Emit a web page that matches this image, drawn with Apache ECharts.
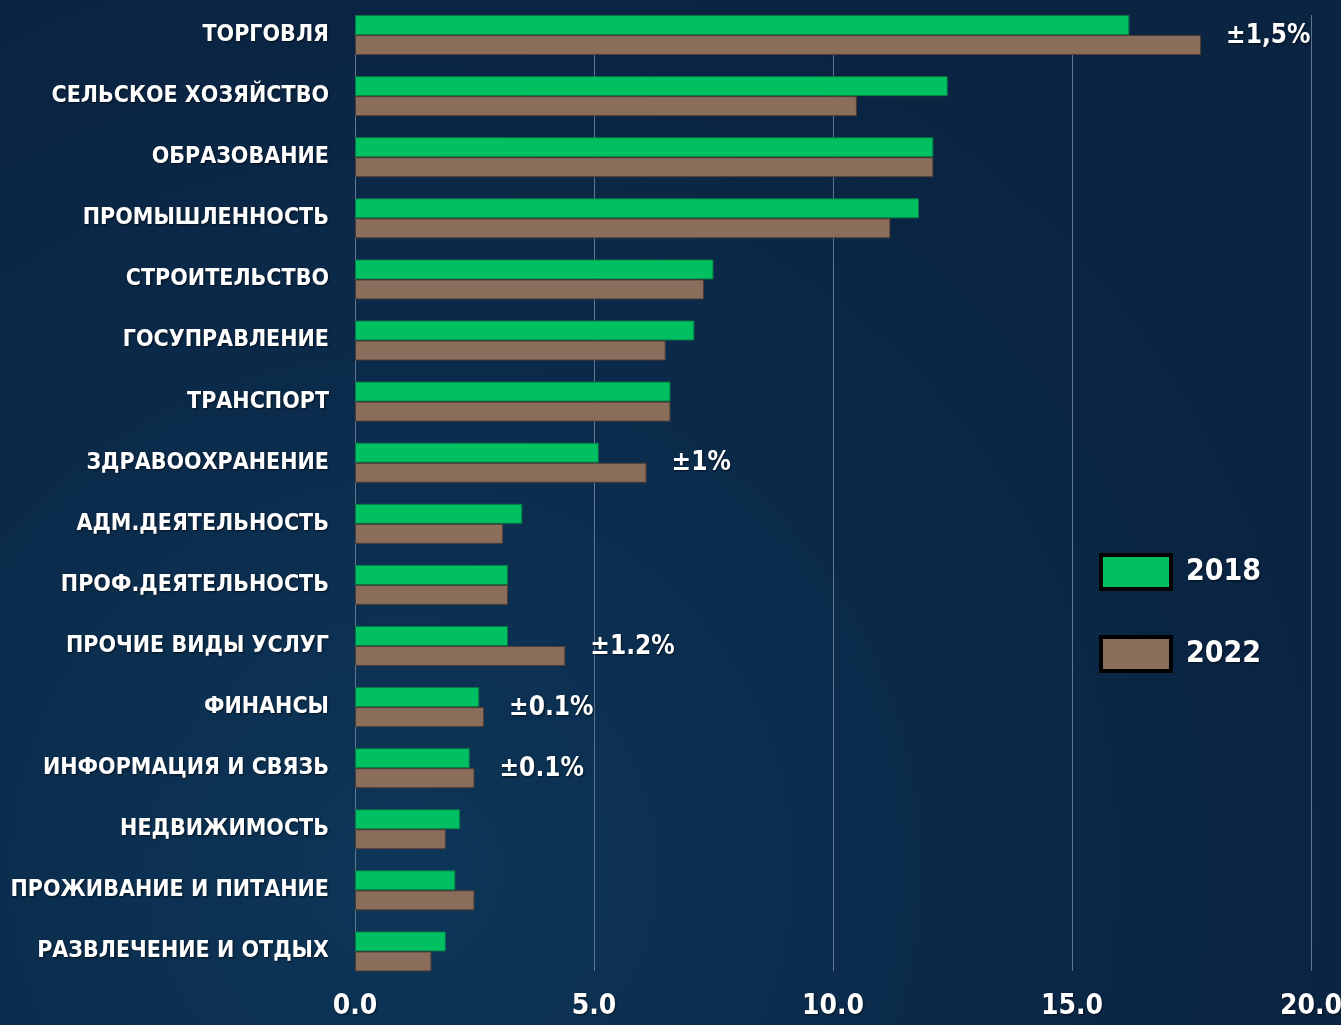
<!DOCTYPE html>
<html>
<head>
<meta charset="utf-8">
<script src="https://cdn.jsdelivr.net/npm/echarts@6/dist/echarts.min.js"></script>
<style>
  html, body { margin: 0; padding: 0; background: #0b2745; }
  #chart { width: 1341px; height: 1025px; }
</style>
</head>
<body>
<div id="chart"></div>
<script>
// sectors, top to bottom
var categories = [
  'ТОРГОВЛЯ', 'СЕЛЬСКОЕ ХОЗЯЙСТВО', 'ОБРАЗОВАНИЕ', 'ПРОМЫШЛЕННОСТЬ',
  'СТРОИТЕЛЬСТВО', 'ГОСУПРАВЛЕНИЕ', 'ТРАНСПОРТ', 'ЗДРАВООХРАНЕНИЕ',
  'АДМ.ДЕЯТЕЛЬНОСТЬ', 'ПРОФ.ДЕЯТЕЛЬНОСТЬ', 'ПРОЧИЕ ВИДЫ УСЛУГ', 'ФИНАНСЫ',
  'ИНФОРМАЦИЯ И СВЯЗЬ', 'НЕДВИЖИМОСТЬ', 'ПРОЖИВАНИЕ И ПИТАНИЕ', 'РАЗВЛЕЧЕНИЕ И ОТДЫХ'
];
var values2018 = [16.2, 12.4, 12.1, 11.8, 7.5, 7.1, 6.6, 5.1, 3.5, 3.2, 3.2, 2.6, 2.4, 2.2, 2.1, 1.9];
var values2022 = [17.7, 10.5, 12.1, 11.2, 7.3, 6.5, 6.6, 6.1, 3.1, 3.2, 4.4, 2.7, 2.5, 1.9, 2.5, 1.6];
var notes = ['±1,5%', '', '', '', '', '', '', '±1%', '', '', '±1.2%', '±0.1%', '±0.1%', '', '', ''];
var xTicks = ['0.0', '5.0', '10.0', '15.0', '20.0'];

var FONT = '"DejaVu Sans Condensed", "Liberation Sans", sans-serif';
var shadow = { textShadowColor: 'rgba(0,0,0,0.6)', textShadowBlur: 2, textShadowOffsetX: 1, textShadowOffsetY: 1 };

var chart = echarts.init(document.getElementById('chart'));
chart.setOption({
  backgroundColor: {
    type: 'radial', x: 0.3, y: 0.85, r: 0.9,
    colorStops: [
      { offset: 0, color: '#0d3658' },
      { offset: 0.6, color: '#0b2a4a' },
      { offset: 1, color: '#0a2442' }
    ]
  },
  animation: false,
  legend: {
    orient: 'vertical',
    left: 1099, top: 553, padding: 0,
    itemWidth: 70, itemHeight: 34, itemGap: 44,
    icon: 'rect',
    itemStyle: { borderColor: '#000', borderWidth: 4 },
    textStyle: Object.assign({ color: '#fff', fontFamily: FONT, fontWeight: 'bold', fontSize: 30, padding: [0, 0, 0, 10] }, shadow),
    data: ['2018', '2022']
  },
  grid: [
    { left: 355, right: 30, top: 4.5, bottom: 43, outerBoundsMode: 'none' },
    { left: 355, right: 30, top: 15, bottom: 54, outerBoundsMode: 'none' }
  ],
  xAxis: [
    { gridIndex: 0, type: 'value', min: 0, max: 20, interval: 5,
      axisLabel: { show: false }, axisLine: { show: false }, axisTick: { show: false }, splitLine: { show: false } },
    { gridIndex: 1, type: 'value', min: 0, max: 20, interval: 5,
      axisLine: { show: false }, axisTick: { show: false },
      splitLine: { show: true, lineStyle: { color: '#5f7590', width: 1 } },
      axisLabel: Object.assign({
        color: '#fff', fontFamily: FONT, fontWeight: 'bold', fontSize: 28, margin: 22,
        formatter: function (v) { return xTicks[v / 5]; }
      }, shadow) }
  ],
  yAxis: [
    { gridIndex: 0, type: 'category', data: categories, inverse: true,
      axisLine: { show: false }, axisTick: { show: false },
      axisLabel: Object.assign({ color: '#fff', fontFamily: FONT, fontWeight: 'bold', fontSize: 23, margin: 26 }, shadow) },
    { gridIndex: 1, type: 'category', data: categories, show: false }
  ],
  series: [
    {
      name: '2018', type: 'bar', xAxisIndex: 0, yAxisIndex: 0,
      data: values2018, barWidth: 20, barGap: '0%',
      itemStyle: { color: '#00c062', borderColor: '#0a7a45', borderWidth: 1 }
    },
    {
      name: '2022', type: 'bar', xAxisIndex: 0, yAxisIndex: 0,
      data: values2022, barWidth: 20, barGap: '0%',
      itemStyle: { color: '#8b6d5c', borderColor: '#4e3d34', borderWidth: 1 },
      label: Object.assign({
        show: true, position: 'right', distance: 25, offset: [0, -9],
        color: '#fff', fontFamily: FONT, fontWeight: 'bold', fontSize: 26,
        formatter: function (p) { return notes[p.dataIndex]; }
      }, shadow)
    }
  ]
});
</script>
</body>
</html>
